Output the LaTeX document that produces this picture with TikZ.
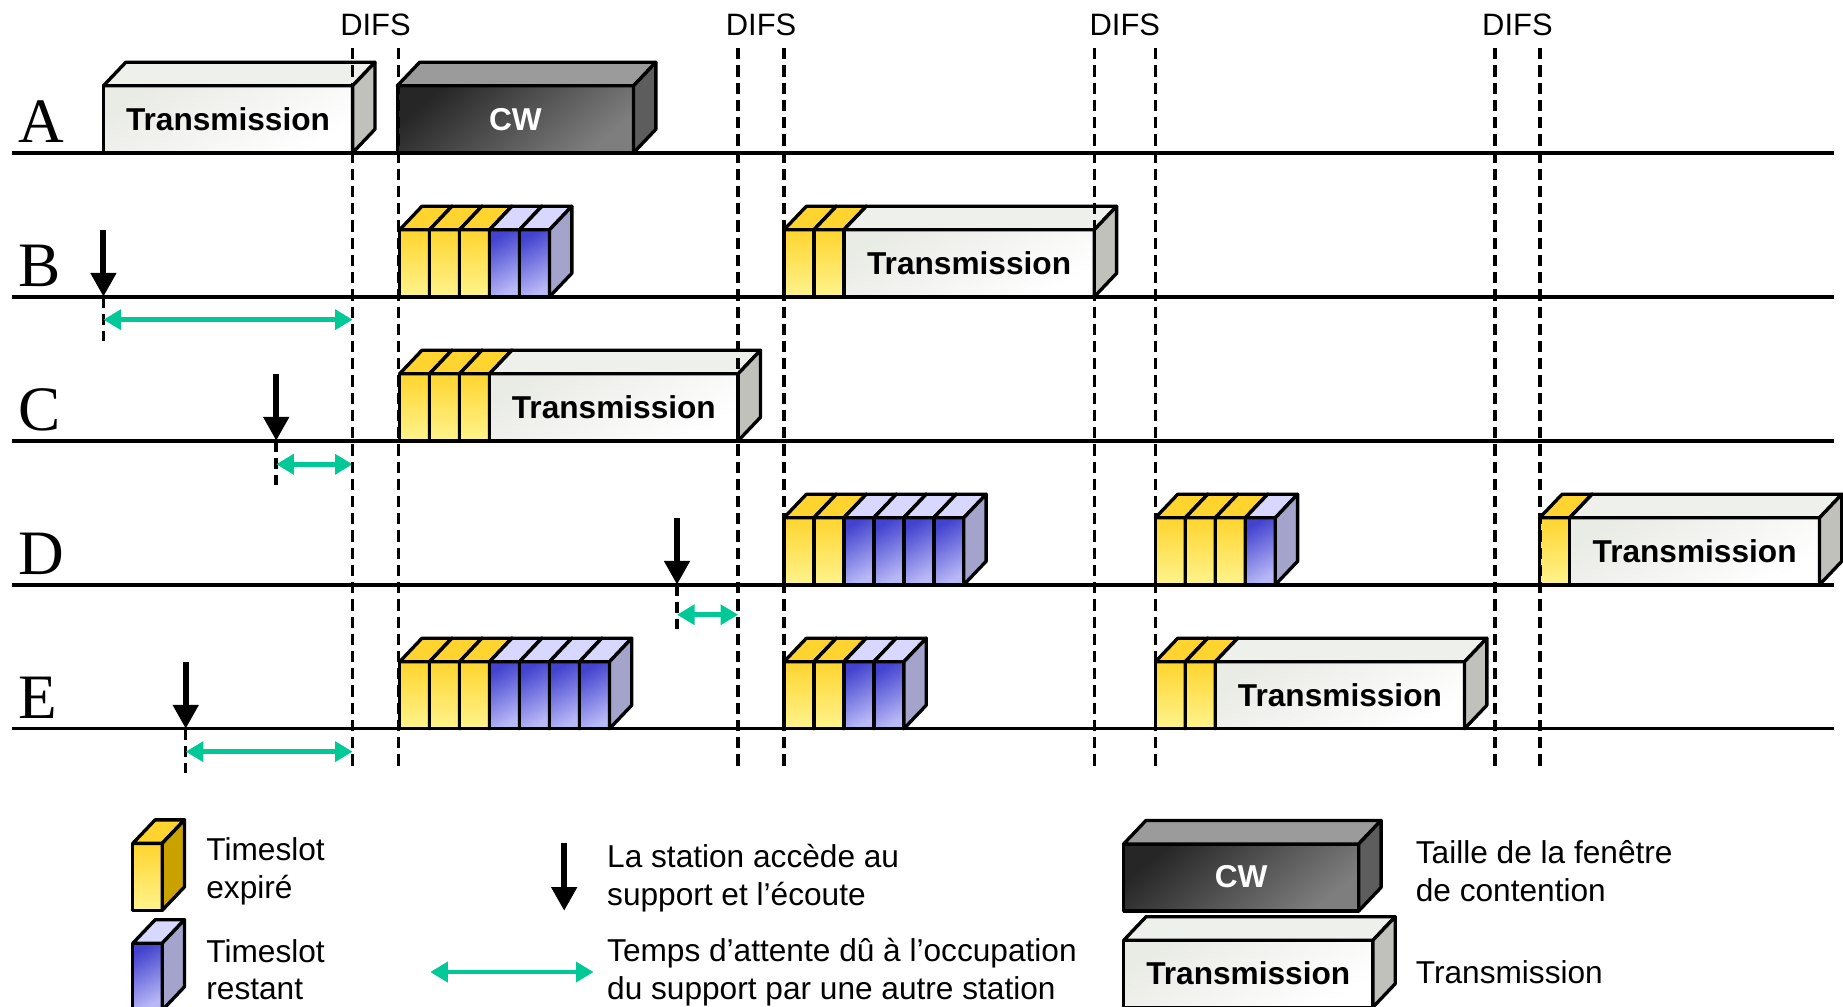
\documentclass[tikz,border=0pt]{standalone}
\usepackage{fontspec}
\setmainfont{Liberation Sans}
\newfontfamily\rowfont{Liberation Serif}
\usetikzlibrary{arrows.meta,calc}

\definecolor{goldTop}{HTML}{FFD42E}
\definecolor{goldLow}{HTML}{FFF48E}
\definecolor{goldSide}{HTML}{C9A200}
\definecolor{blueDark}{HTML}{4343CF}
\definecolor{blueLight}{HTML}{B9B9F7}
\definecolor{blueTop}{HTML}{D7D7FF}
\definecolor{blueSide}{HTML}{A3A3CC}
\definecolor{txFront}{HTML}{E9EBE5}
\definecolor{txTop}{HTML}{EEF0EB}
\definecolor{txSide}{HTML}{C0C1BB}
\definecolor{cwDark}{HTML}{262626}
\definecolor{cwLight}{HTML}{7E7E7E}
\definecolor{cwTop}{HTML}{9B9B9B}
\definecolor{cwSide}{HTML}{5D5D5D}
\definecolor{waitgreen}{HTML}{00C896}

% front, top and side faces of one block
\newcommand{\prism}[4]{%
  \path[#4 front] (#1,#2) rectangle ++(#3,-57);
  \path[#4 top] (#1,#2-57) -- ++(19,-20) -- ++(#3,0) -- ++(-19,20) -- cycle;
  \path[#4 side] (#1+#3,#2) -- ++(0,-57) -- ++(19,-20) -- ++(0,57) -- cycle;
}

\begin{document}
\begin{tikzpicture}[
    x=0.11754mm, y=-0.11754mm,
    boxface/.style={draw, line width=0.95pt, line join=round},
    ys front/.style={boxface, top color=goldTop, bottom color=goldLow},
    ys top/.style={boxface, fill=goldTop},
    ys side/.style={boxface, fill=goldSide},
    bs front/.style={boxface, top color=blueDark, bottom color=blueLight, shading angle=30},
    bs top/.style={boxface, fill=blueTop},
    bs side/.style={boxface, fill=blueSide},
    tx front/.style={boxface, top color=txFront, bottom color=white, shading angle=30},
    tx top/.style={boxface, fill=txTop},
    tx side/.style={boxface, fill=txSide},
    cw front/.style={boxface, top color=cwDark, bottom color=cwLight, shading angle=40},
    cw top/.style={boxface, fill=cwTop},
    cw side/.style={boxface, fill=cwSide},
    timeline/.style={line width=1pt},
    difs/.style={line width=1pt, dash pattern=on 3.2pt off 1.7pt},
    access/.style={-{Triangle[width=7pt,length=6.8pt]}, line width=1.7pt},
    wait/.style={{Triangle[width=5.6pt,length=5pt]}-{Triangle[width=5.6pt,length=5pt]}, line width=1.3pt, waitgreen},
    rowname/.style={anchor=base west, inner sep=0pt, font=\rowfont\fontsize{18}{20}\selectfont},
    boxtext/.style={inner sep=0pt, font=\bfseries\fontsize{9}{11}\selectfont},
    difstext/.style={inner sep=0pt, font=\fontsize{8.8}{10}\selectfont},
    legendtext/.style={anchor=west, align=left, inner sep=0pt, font=\fontsize{9}{10.8}\selectfont}
]
\useasboundingbox (0,0) rectangle (1568,856.7);

% Time lines of the stations
\foreach \st/\b in {A/130,B/252.5,C/375,D/497.5,E/620}{
    \coordinate (start\st) at (10,\b);
    \coordinate (end\st) at (1560,\b);
    \draw[timeline] (start\st) -- (end\st);
    \node[rowname] (name\st) at (15,\b-9) {\st};
}

% Station A
\prism{88}{130}{212}{tx}
\node[boxtext] (txA) at (194,101.5) {Transmission};
\prism{338}{130}{201}{cw}
\node[boxtext, text=white] (cwA) at (438.5,101.5) {CW};

% Timeslots
\foreach \x/\b/\kinds in {340/252.5/{ys,ys,ys,bs,bs}, 667/252.5/{ys,ys},
    340/375/{ys,ys,ys},
    667/497.5/{ys,ys,bs,bs,bs,bs}, 983/497.5/{ys,ys,ys,bs}, 1310/497.5/{ys},
    340/620/{ys,ys,ys,bs,bs,bs,bs}, 667/620/{ys,ys,bs,bs}, 983/620/{ys,ys}}
    \foreach \k [count=\i from 0] in \kinds
        \prism{\x+\i*25.5}{\b}{25.5}{\k};

% Transmissions after the contention
\prism{718}{252.5}{213}{tx}
\node[boxtext] (txB) at (824.5,224) {Transmission};
\prism{416.5}{375}{211.5}{tx}
\node[boxtext] (txC) at (522.25,346.5) {Transmission};
\prism{1335.5}{497.5}{212.5}{tx}
\node[boxtext] (txD) at (1441.75,469) {Transmission};
\prism{1034}{620}{212}{tx}
\node[boxtext] (txE) at (1140,591.5) {Transmission};

% Access and waiting time
\foreach \st/\x/\b/\y/\d in {B/88/252.5/272/300, C/235/375/395/300, D/576/497.5/523/628, E/158/620/639.5/300}{
    \coordinate (ask\st) at (\x,\b-57);
    \coordinate (hear\st) at (\x,\b);
    \coordinate (stub\st) at (\x,\b+38);
    \coordinate (wait\st) at (\x,\y);
    \coordinate (free\st) at (\d,\y);
    \draw[access] (ask\st) -- (hear\st);
    \draw[difs] (hear\st) -- (stub\st);
    \draw[wait] (wait\st) -- (free\st);
}

% DIFS
\foreach \i/\x in {1/300,2/339,3/628,4/667,5/931,6/983,7/1272,8/1310}{
    \coordinate (difsTop\i) at (\x,41);
    \coordinate (difsBot\i) at (\x,652);
    \draw[difs] (difsTop\i) -- (difsBot\i);
}
\foreach \i/\j in {1/2,3/4,5/6,7/8}
    \node[difstext] (difsLabel\i) at ($(difsTop\i)!0.5!(difsTop\j)+(0,-20)$) {DIFS};

% Legend
\prism{113}{774.5}{25}{ys}
\node[legendtext] (keyExpired) at (175,741) {Timeslot\\expiré};
\prism{113}{859.5}{25}{bs}
\node[legendtext] (keyLeft) at (175,825) {Timeslot\\restant};

\coordinate (keyAskTop) at (480,717);
\coordinate (keyAskBot) at (480,775);
\draw[access] (keyAskTop) -- (keyAskBot);
\node[legendtext] (keyAccess) at (516,747.5) {La station accède au\\support et l’écoute};
\coordinate (keyWaitL) at (366,827);
\coordinate (keyWaitR) at (505,827);
\draw[wait] (keyWaitL) -- (keyWaitR);
\node[legendtext] (keyWait) at (516,827) {Temps d’attente dû à l’occupation\\du support par une autre station};

\prism{956}{775}{200}{cw}
\node[boxtext, text=white] (keyCWbox) at (1056,745.5) {CW};
\node[legendtext] (keyCW) at (1204,741) {Taille de la fenêtre\\de contention};
\prism{956}{857}{212}{tx}
\node[boxtext] (keyTxBox) at (1062,828) {Transmission};
\node[legendtext] (keyTx) at (1204,827) {Transmission};

\end{tikzpicture}
\end{document}
